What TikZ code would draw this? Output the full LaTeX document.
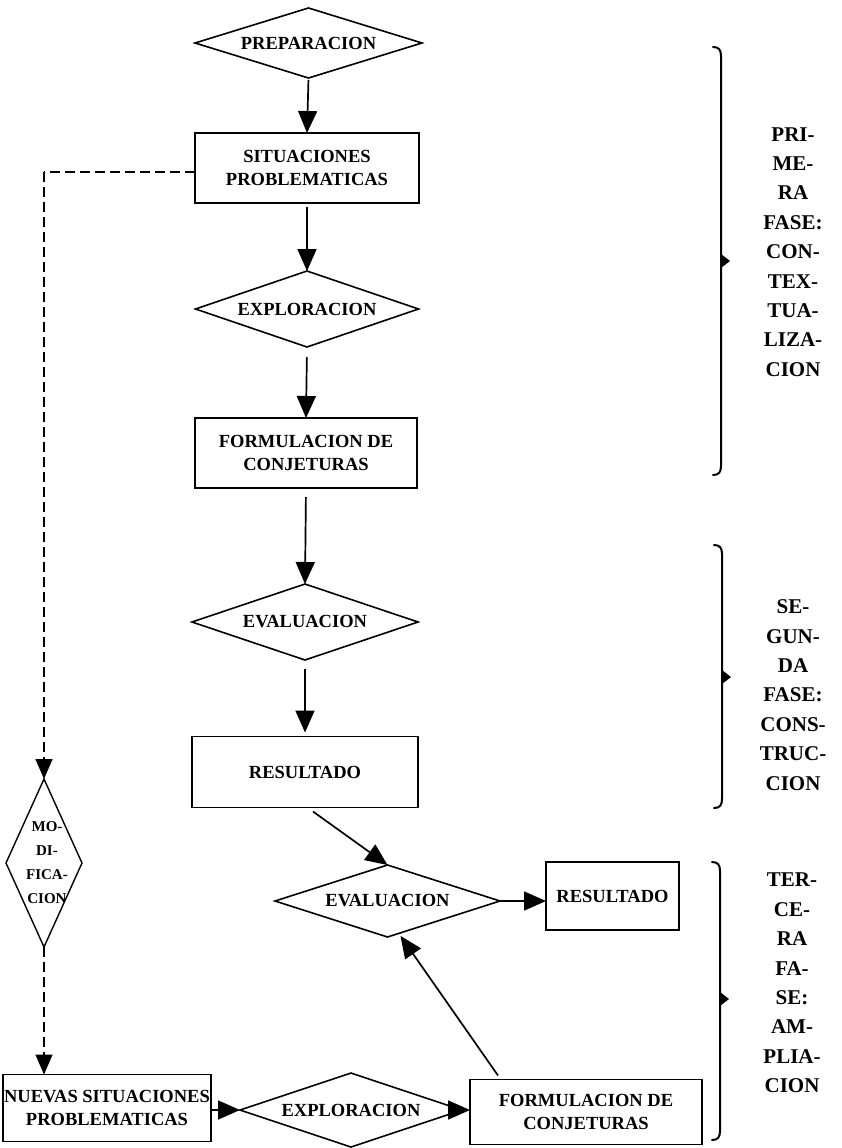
\documentclass[tikz,border=0pt]{standalone}
\usepackage{fontspec}
\setmainfont{Liberation Serif}
\usetikzlibrary{shapes.geometric,arrows.meta,calc}
\begin{document}
\begin{tikzpicture}[x=1pt,y=-1pt,
  every node/.style={font=\bfseries\fontsize{18.5}{23}\selectfont, align=center, inner sep=0pt, outer sep=0pt},
  box/.style={draw, line width=1.9pt},
  diam/.style={draw, diamond, aspect=3, line width=1.6pt},
  flow/.style={line width=1.7pt, -{Triangle[length=22pt,width=19pt]}},
  dflow/.style={line width=1.4pt, dash pattern=on 10pt off 5pt, -{Triangle[length=20pt,width=17pt]}},
  dline/.style={line width=1.4pt, dash pattern=on 10pt off 5pt},
  phase/.style={font=\bfseries\fontsize{21}{29.4}\selectfont},
  modtxt/.style={font=\bfseries\fontsize{15}{24}\selectfont},
  brace/.style={line width=2pt, line cap=round}
]
\useasboundingbox (0,0) rectangle (841,1148);
\fill[white] (0,0) rectangle (841,1148);

% main column
\node[diam, minimum width=227pt, minimum height=70pt] (prep) at (308.5,43) {PREPARACION};
\node[box, minimum width=224pt, minimum height=70pt] (sit) at (307,168) {SITUACIONES\\PROBLEMATICAS};
\node[diam, minimum width=223pt, minimum height=76pt] (expl1) at (307,309) {EXPLORACION};
\node[box, minimum width=222pt, minimum height=70pt] (form1) at (306,453) {FORMULACION DE\\CONJETURAS};
\node[diam, minimum width=226pt, minimum height=76pt] (eval1) at (305,622) {EVALUACION};
\node[box, minimum width=226pt, minimum height=71pt] (res1) at (305,772) {RESULTADO};

% third phase
\node[diam, minimum width=225pt, minimum height=72pt] (eval2) at (387.5,901) {EVALUACION};
\node[box, minimum width=133pt, minimum height=68pt] (res2) at (612.5,896) {RESULTADO};
\node[box, minimum width=208pt, minimum height=67pt] (nuev) at (107,1108) {NUEVAS SITUACIONES\\PROBLEMATICAS};
\node[diam, minimum width=222pt, minimum height=74pt] (expl2) at (351,1110) {EXPLORACION};
\node[box, minimum width=232pt, minimum height=65pt] (form2) at (586,1112) {FORMULACION DE\\CONJETURAS};

% modification
\node[draw, diamond, line width=1.4pt, minimum width=76pt, minimum height=168pt] (mod) at (44,863) {};
\node[modtxt] (modt) at (47,863) {MO-\\DI-\\FICA-\\CION};

% connectors
\draw[flow, shorten <=2pt] (prep.south) -- (sit.north);
\draw[flow, shorten <=4pt] (sit.south) -- (expl1.north);
\draw[flow, shorten <=10pt] (expl1.south) -- (form1.north);
\draw[flow, shorten <=9pt] (form1.south) -- (eval1.north);
\draw[flow, shorten <=9pt, shorten >=4pt] (eval1.south) -- (res1.north);
\draw[flow] ([xshift=8pt,yshift=-4pt]res1.south) -- (eval2.north);
\draw[flow] (eval2.east) -- (eval2.east -| res2.west);
\draw[flow] (nuev.east |- expl2.west) -- (expl2.west);
\draw[flow] (expl2.east) -- (expl2.east -| form2.west);
\draw[flow, shorten >=3pt] ([xshift=-88pt,yshift=4pt]form2.north) -- ($(eval2.south)!0.1!(eval2.east)$);

\draw[dline] ([yshift=-4pt]sit.west) -- ([yshift=-4pt]sit.west -| mod.north);
\draw[dflow] ([yshift=-4pt]sit.west -| mod.north) -- (mod.north);
\draw[dflow] (mod.south) -- (mod.south |- nuev.north);

% braces
\draw[brace] (713,47) .. controls (719,47) and (721,50) .. (721,56) -- (721,466) .. controls (721,472) and (719,475) .. (713,475);
\fill (721,254) -- (730,261) -- (721,268) -- cycle;
\draw[brace] (714,545) .. controls (720,545) and (722,548) .. (722,554) -- (722,799) .. controls (722,805) and (720,808) .. (714,808);
\fill (722,670) -- (731,677) -- (722,684) -- cycle;
\draw[brace] (712,862) .. controls (718,862) and (720,865) .. (720,871) -- (720,1131) .. controls (720,1137) and (718,1140) .. (712,1140);
\fill (720,992) -- (729,999) -- (720,1006) -- cycle;

% phase labels
\node[phase] (ph1) at (793,252) {PRI-\\ME-\\RA\\FASE:\\CON-\\TEX-\\TUA-\\LIZA-\\CION};
\node[phase] (ph2) at (793,695) {SE-\\GUN-\\DA\\FASE:\\CONS-\\TRUC-\\CION};
\node[phase] (ph3) at (792,983) {TER-\\CE-\\RA\\FA-\\SE:\\AM-\\PLIA-\\CION};
\end{tikzpicture}
\end{document}
